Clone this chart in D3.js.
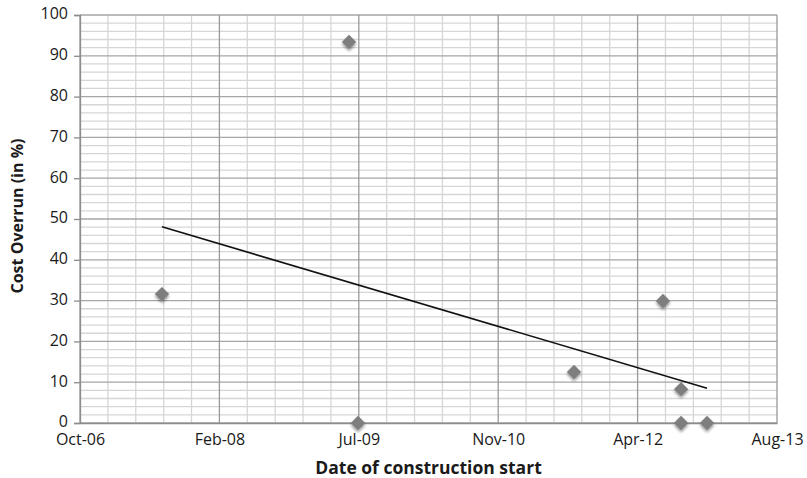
<!DOCTYPE html>
<html>
<head>
<meta charset="utf-8">
<script src="https://cdn.jsdelivr.net/npm/d3@7"></script>
<style>
  html, body { margin: 0; padding: 0; background: #fff; }
  svg { display: block; }
  text { font-family: "Open Sans", Lato, sans-serif; fill: #1a1a1a; }
</style>
</head>
<body>
<svg id="chart" width="807" height="478"></svg>
<script>
// Construction start dates and cost overrun (%) for each project
const startDates = ["2007-07-31", "2009-06-01", "2009-07-03", "2011-08-17",
                    "2012-07-01", "2012-09-04", "2012-09-04", "2012-12-06"];
const overrunPct = [31.6, 93.4, 0, 12.5, 29.9, 8.3, 0, 0];

// Axis ticks: dates every 500 days, overrun every 10 %
const xTickDates = ["2006-10-10", "2008-02-22", "2009-07-06", "2010-11-18", "2012-04-01", "2013-08-14"];
const xTickLabels = ["Oct-06", "Feb-08", "Jul-09", "Nov-10", "Apr-12", "Aug-13"];
const yTicks = [0, 10, 20, 30, 40, 50, 60, 70, 80, 90, 100];

const parse = d3.utcParse("%Y-%m-%d");
const DAY = 86400000;

const svg = d3.select("#chart");
const margin = { left: 80, right: 30, top: 15, bottom: 55 };
const W = 807, H = 478;

const x0 = parse(xTickDates[0]);
const x1 = parse(xTickDates[xTickDates.length - 1]);
const x = d3.scaleUtc().domain([x0, x1]).range([margin.left, W - margin.right]);
const y = d3.scaleLinear().domain([0, 100]).range([H - margin.bottom, margin.top]);

const defs = svg.append("defs");
const shadow = defs.append("filter").attr("id", "shade")
  .attr("x", "-50%").attr("y", "-50%").attr("width", "200%").attr("height", "200%");
shadow.append("feGaussianBlur").attr("in", "SourceAlpha").attr("stdDeviation", 1.6).attr("result", "b");
shadow.append("feOffset").attr("in", "b").attr("dy", 1.5).attr("result", "o");
shadow.append("feComponentTransfer").attr("in", "o").attr("result", "s")
  .append("feFuncA").attr("type", "linear").attr("slope", 0.45);
const merge = shadow.append("feMerge");
merge.append("feMergeNode").attr("in", "s");
merge.append("feMergeNode").attr("in", "SourceGraphic");

const soft = defs.append("filter").attr("id", "soft");
soft.append("feGaussianBlur").attr("stdDeviation", 0.35);

const grid = svg.append("g").attr("filter", "url(#soft)");

// minor grid: every 2 % and every 100 days
const minorY = d3.range(0, 100.01, 2).filter(v => v % 10 !== 0);
grid.selectAll("line.hmin").data(minorY).join("line")
  .attr("x1", x.range()[0]).attr("x2", x.range()[1])
  .attr("y1", d => y(d)).attr("y2", d => y(d))
  .attr("stroke", "#d6d6d6").attr("stroke-width", 1.3);

const minorX = d3.range(0, 2501, 100).filter(v => v % 500 !== 0).map(d => new Date(+x0 + d * DAY));
grid.selectAll("line.vmin").data(minorX).join("line")
  .attr("x1", d => x(d)).attr("x2", d => x(d))
  .attr("y1", y(0)).attr("y2", y(100))
  .attr("stroke", "#d6d6d6").attr("stroke-width", 1.3);

// major grid
grid.selectAll("line.hmaj").data(yTicks).join("line")
  .attr("x1", x.range()[0]).attr("x2", x.range()[1])
  .attr("y1", d => y(d)).attr("y2", d => y(d))
  .attr("stroke", "#a6a6a6").attr("stroke-width", 1.3);

grid.selectAll("line.vmaj").data(xTickDates.map(parse)).join("line")
  .attr("x1", d => x(d)).attr("x2", d => x(d))
  .attr("y1", y(0)).attr("y2", y(100))
  .attr("stroke", "#9a9a9a").attr("stroke-width", 1.3);

// axes
const yAxis = d3.axisLeft(y).tickValues(yTicks).tickSize(6).tickPadding(6);
const gy = svg.append("g").attr("transform", `translate(${margin.left},0)`).call(yAxis);
gy.select(".domain").attr("stroke", "#8c8c8c").attr("stroke-width", 1.3);
gy.selectAll(".tick line").attr("stroke", "#8c8c8c").attr("stroke-width", 1.3);
gy.selectAll(".tick text").attr("font-size", 16).attr("dy", "0.24em")
  .attr("font-family", "'Open Sans', sans-serif").attr("fill", "#1a1a1a");

const xAxis = d3.axisBottom(x).tickValues(xTickDates.map(parse))
  .tickFormat((d, i) => xTickLabels[i]).tickSize(0).tickPadding(11);
const gx = svg.append("g").attr("transform", `translate(0,${y(0)})`).call(xAxis);
gx.select(".domain").attr("stroke", "#8c8c8c").attr("stroke-width", 1.3);
gx.selectAll(".tick text").attr("font-size", 16)
  .attr("font-family", "'Open Sans', sans-serif").attr("fill", "#1a1a1a");

// data points
const pts = startDates.map((d, i) => ({ date: parse(d), v: overrunPct[i] }));

// linear trend (least squares on days)
const xs = pts.map(p => (+p.date - +x0) / DAY);
const ys = pts.map(p => p.v);
const mx = d3.mean(xs), my = d3.mean(ys);
const slope = d3.sum(xs.map((v, i) => (v - mx) * (ys[i] - my))) / d3.sum(xs.map(v => (v - mx) * (v - mx)));
const icpt = my - slope * mx;
const xmin = d3.min(xs), xmax = d3.max(xs);
const trend = [xmin, xmax].map(d => [x(new Date(+x0 + d * DAY)), y(icpt + slope * d)]);

svg.append("path")
  .attr("d", d3.line()(trend))
  .attr("stroke", "#111").attr("stroke-width", 1.6).attr("fill", "none");

const diamond = d3.symbol().type(d3.symbolDiamond2).size(130);
svg.append("g").selectAll("path").data(pts).join("path")
  .attr("d", diamond)
  .attr("transform", d => `translate(${x(d.date)},${y(d.v)})`)
  .attr("fill", "#7e7e7e")
  .attr("filter", "url(#shade)");

// axis titles
svg.append("text")
  .attr("x", (x.range()[0] + x.range()[1]) / 2).attr("y", 474)
  .attr("text-anchor", "middle").attr("font-size", 17.5).attr("font-weight", 700)
  .text("Date of construction start");

svg.append("text")
  .attr("transform", `translate(23,${(y(0) + y(100)) / 2 - 3}) rotate(-90)`)
  .attr("text-anchor", "middle").attr("font-size", 16).attr("font-weight", 700)
  .text("Cost Overrun (in %)");
</script>
</body>
</html>
